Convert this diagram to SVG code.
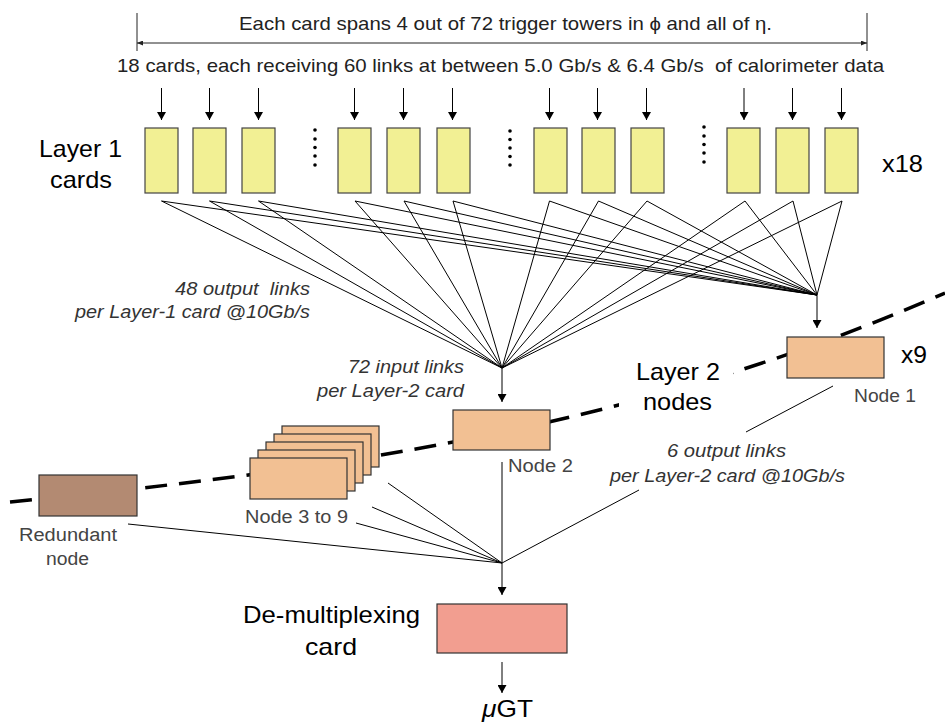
<svg xmlns="http://www.w3.org/2000/svg" width="945" height="722" viewBox="0 0 945 722">
<style>
text{font-family:"Liberation Sans",Arial,sans-serif}
.big{font-size:24px;fill:#000}
.top{font-size:19px;fill:#222}
.lbl{font-size:18px;fill:#444}
.it{font-size:18px;fill:#333;font-style:italic}
.card{fill:#f2f094;stroke:#444;stroke-width:1.2}
.node{fill:#f2c093;stroke:#333;stroke-width:1.2}
.ln{stroke:#000;stroke-width:1;fill:none}
</style>
<defs>
<marker id="ah" viewBox="0 0 8 9" refX="8" refY="4.5" markerWidth="8" markerHeight="9" markerUnits="userSpaceOnUse" orient="auto">
<path d="M0,0 L8,4.5 L0,9 Z" fill="#000"/>
</marker>
<marker id="sa" viewBox="0 0 6 5" refX="6" refY="2.5" markerWidth="6" markerHeight="5" markerUnits="userSpaceOnUse" orient="auto-start-reverse">
<path d="M0,0 L6,2.5 L0,5 Z" fill="#222"/>
</marker>
<mask id="gap">
<rect x="0" y="0" width="945" height="722" fill="#fff"/>
<rect x="619" y="355" width="114" height="65" fill="#000"/>
</mask>
</defs>

<!-- span annotation -->
<g id="span">
<line x1="137" y1="13" x2="137" y2="51" stroke="#222" stroke-width="1"/>
<line x1="867" y1="13" x2="867" y2="51" stroke="#222" stroke-width="1"/>
<line x1="137" y1="43" x2="867" y2="43" stroke="#222" stroke-width="1" marker-start="url(#sa)" marker-end="url(#sa)"/>
<text class="top" x="239" y="30" textLength="533" lengthAdjust="spacingAndGlyphs">Each card spans 4 out of 72 trigger towers in ϕ and all of η.</text>
<text class="top" x="117" y="72" textLength="767" lengthAdjust="spacingAndGlyphs" xml:space="preserve">18 cards, each receiving 60 links at between 5.0 Gb/s &amp; 6.4 Gb/s  of calorimeter data</text>
</g>

<!-- layer 2 boundary curve -->
<path d="M10,502 C322,471 633,430 945,293" fill="none" stroke="#000" stroke-width="3.5" stroke-dasharray="22 12" mask="url(#gap)"/>

<g id="connectors">
<g class="ln" marker-end="url(#ah)">
<line x1="161.5" y1="88" x2="161.5" y2="120"/>
<line x1="209.5" y1="88" x2="209.5" y2="120"/>
<line x1="258.5" y1="88" x2="258.5" y2="120"/>
<line x1="354.5" y1="88" x2="354.5" y2="120"/>
<line x1="403.5" y1="88" x2="403.5" y2="120"/>
<line x1="452.5" y1="88" x2="452.5" y2="120"/>
<line x1="549.5" y1="88" x2="549.5" y2="120"/>
<line x1="597.5" y1="88" x2="597.5" y2="120"/>
<line x1="646.5" y1="88" x2="646.5" y2="120"/>
<line x1="744" y1="88" x2="744" y2="120"/>
<line x1="792.5" y1="88" x2="792.5" y2="120"/>
<line x1="841.5" y1="88" x2="841.5" y2="120"/>
<line x1="502" y1="368" x2="502" y2="402"/>
<line x1="817" y1="295" x2="817" y2="328"/>
<line x1="502" y1="563" x2="502" y2="595"/>
<line x1="502" y1="662" x2="502" y2="693"/>
</g>
<path class="ln" d="M161.5,201 L502,368 M161.5,201 L817,295
M209.5,201 L502,368 M209.5,201 L817,295
M258.5,201 L502,368 M258.5,201 L817,295
M355,201 L502,368 M355,201 L817,295
M404,201 L502,368 M404,201 L817,295
M453,201 L502,368 M453,201 L817,295
M549.5,201 L502,368 M549.5,201 L817,295
M598.5,201 L502,368 M598.5,201 L817,295
M647,201 L502,368 M647,201 L817,295
M745,201 L502,368 M745,201 L817,295
M793,201 L502,368 M793,201 L817,295
M842,201 L502,368 M842,201 L817,295"/>
<path class="ln" d="M502,462 L502,563 M833,386 L746,432 M639,490 L502,563 M388,483 L502,563 M372,507 L502,563 M356,523 L502,563 M128,524 L502,563"/>
</g>

<g id="layer1-label">
<text class="big" x="39" y="157" textLength="83" lengthAdjust="spacingAndGlyphs">Layer 1</text>
<text class="big" x="50" y="188" textLength="62" lengthAdjust="spacingAndGlyphs">cards</text>
<text class="big" x="882" y="172" textLength="41" lengthAdjust="spacingAndGlyphs">x18</text>
</g>

<g id="layer1-cards">
<rect id="card1" class="card" x="145" y="128" width="33" height="65"/>
<rect id="card2" class="card" x="193" y="128" width="33" height="65"/>
<rect id="card3" class="card" x="242" y="128" width="33" height="65"/>
<rect id="card4" class="card" x="338" y="128" width="33" height="65"/>
<rect id="card5" class="card" x="387" y="128" width="33" height="65"/>
<rect id="card6" class="card" x="437" y="128" width="33" height="65"/>
<rect id="card7" class="card" x="534" y="128" width="33" height="65"/>
<rect id="card8" class="card" x="582" y="128" width="33" height="65"/>
<rect id="card9" class="card" x="631" y="128" width="33" height="65"/>
<rect id="card10" class="card" x="727" y="128" width="33" height="65"/>
<rect id="card11" class="card" x="776" y="128" width="33" height="65"/>
<rect id="card12" class="card" x="825" y="128" width="33" height="65"/>
</g>

<g id="ellipses" fill="#000">
<circle cx="315" cy="130" r="1.8"/><circle cx="315" cy="139" r="1.8"/><circle cx="315" cy="147.5" r="1.8"/><circle cx="315" cy="156" r="1.8"/><circle cx="315" cy="165" r="1.8"/>
<circle cx="510" cy="131" r="1.8"/><circle cx="510" cy="139.5" r="1.8"/><circle cx="510" cy="148" r="1.8"/><circle cx="510" cy="156.5" r="1.8"/><circle cx="510" cy="165" r="1.8"/>
<circle cx="704" cy="127" r="1.8"/><circle cx="704" cy="136" r="1.8"/><circle cx="704" cy="144.5" r="1.8"/><circle cx="704" cy="153" r="1.8"/><circle cx="704" cy="162" r="1.8"/>
</g>

<g id="link-labels">
<text class="it" x="175" y="295" textLength="135" lengthAdjust="spacingAndGlyphs" xml:space="preserve">48 output  links</text>
<text class="it" x="75" y="318" textLength="235" lengthAdjust="spacingAndGlyphs">per Layer-1 card @10Gb/s</text>
<text class="it" x="348" y="373" textLength="116" lengthAdjust="spacingAndGlyphs">72 input links</text>
<text class="it" x="317" y="397" textLength="147" lengthAdjust="spacingAndGlyphs">per Layer-2 card</text>
<text class="it" x="667" y="457" textLength="119" lengthAdjust="spacingAndGlyphs">6 output links</text>
<text class="it" x="610" y="482" textLength="235" lengthAdjust="spacingAndGlyphs">per Layer-2 card @10Gb/s</text>
</g>

<g id="layer2-label">
<text class="big" x="636" y="380" textLength="84" lengthAdjust="spacingAndGlyphs">Layer 2</text>
<text class="big" x="643" y="410" textLength="69" lengthAdjust="spacingAndGlyphs">nodes</text>
<text class="big" x="901" y="363" textLength="26" lengthAdjust="spacingAndGlyphs">x9</text>
</g>

<g id="node1">
<rect class="node" x="787" y="337" width="97" height="41"/>
<text class="lbl" x="854" y="402" textLength="62" lengthAdjust="spacingAndGlyphs">Node 1</text>
</g>

<g id="node2">
<rect class="node" x="453" y="410" width="97" height="40"/>
<text class="lbl" x="508" y="472" textLength="65" lengthAdjust="spacingAndGlyphs">Node 2</text>
</g>

<g id="node3to9">
<rect class="node" x="282" y="426" width="97" height="41"/>
<rect class="node" x="274" y="434" width="97" height="41"/>
<rect class="node" x="266" y="442" width="97" height="41"/>
<rect class="node" x="258" y="450" width="97" height="41"/>
<rect class="node" x="250" y="458" width="97" height="41"/>
<text class="lbl" x="245" y="523" textLength="103" lengthAdjust="spacingAndGlyphs">Node 3 to 9</text>
</g>

<g id="redundant">
<rect x="39" y="475" width="98" height="41" fill="#b38a72" stroke="#333" stroke-width="1.2"/>
<text class="lbl" x="19" y="541" textLength="98" lengthAdjust="spacingAndGlyphs">Redundant</text>
<text class="lbl" x="46" y="565" textLength="43" lengthAdjust="spacingAndGlyphs">node</text>
</g>

<g id="demux">
<rect x="437" y="604" width="130" height="49" fill="#f29e90" stroke="#333" stroke-width="1.2"/>
<text class="big" x="243" y="623" textLength="177" lengthAdjust="spacingAndGlyphs">De-multiplexing</text>
<text class="big" x="305" y="655" textLength="52" lengthAdjust="spacingAndGlyphs">card</text>
</g>

<g id="ugt">
<text class="big" x="482" y="717" textLength="51" lengthAdjust="spacingAndGlyphs"><tspan font-style="italic">μ</tspan>GT</text>
</g>
</svg>
